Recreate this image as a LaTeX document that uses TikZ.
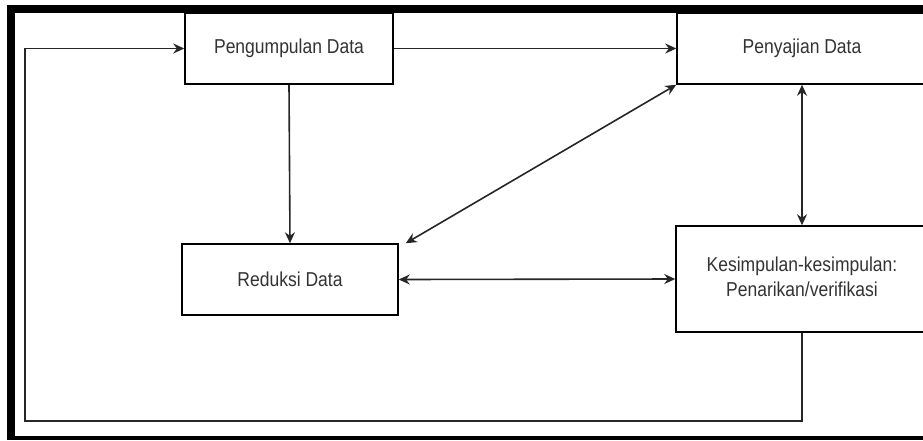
\documentclass[tikz,border=0pt]{standalone}
\usepackage{fontspec}
\setmainfont{Liberation Sans}
\usetikzlibrary{arrows.meta}

% Text slightly taller than wide, as in the picture
\newcommand{\teks}[1]{\scalebox{1}[1.15]{#1}}

\begin{document}
\begin{tikzpicture}
            [x=1pt, y=-1pt,
             kotak/.style={draw=black, line width=1.5pt, fill=white, align=center,
                           text=black!80, inner sep=0pt,
                           font=\fontsize{17.5}{21.4}\selectfont},
             panah/.style={draw=black!85, line width=1.6pt,
                           -{Stealth[length=11pt, width=10pt]}},
             dua/.style={panah, {Stealth[length=11pt, width=10pt]}-{Stealth[length=11pt, width=10pt]}}]
            \clip (0,0) rectangle (923,440);

            % Draw the frame
            \fill[black] (7,5) rectangle (15,440);
            \fill[black] (7,5) rectangle (923,13);
            \fill[black] (7,436) rectangle (923,440);

            % Place the boxes
            \node[kotak, minimum width=208pt, minimum height=71pt] (kumpul) at (289,48.5) {\teks{Pengumpulan Data}};  % Top left box
            \node[kotak, minimum width=250pt, minimum height=71pt] (saji) at (802,48.5) {\teks{Penyajian Data}};      % Top right box
            \node[kotak, minimum width=216pt, minimum height=71pt] (reduksi) at (290,279.5) {\teks{Reduksi Data}};    % Bottom left box
            \node[kotak, minimum width=252pt, minimum height=106pt] (simpul) at (802,279)
                {\teks{\begin{tabular}{@{}c@{}}Kesimpulan-kesimpulan:\\Penarikan/verifikasi\end{tabular}}};      % Bottom right box
            \coordinate (balik) at (25,421);  % Corner of the return line

            % Draw arrows
            \draw[panah] (simpul.south) |- (balik) |- (kumpul.west);       % Arrow back to the start
            \draw[panah] (kumpul.east) -- (saji.west);                     % Arrow from kumpul to saji
            \draw[panah] (kumpul.south) -- (reduksi.north);                % Arrow from kumpul to reduksi
            \draw[dua] (saji.south west) -- ([xshift=7pt]reduksi.north east); % Arrow between saji and reduksi
            \draw[dua] (saji.south) -- (simpul.north);                     % Arrow between saji and simpul
            \draw[dua] (reduksi.east) -- (simpul.west);                    % Arrow between reduksi and simpul
        \end{tikzpicture}
\end{document}
